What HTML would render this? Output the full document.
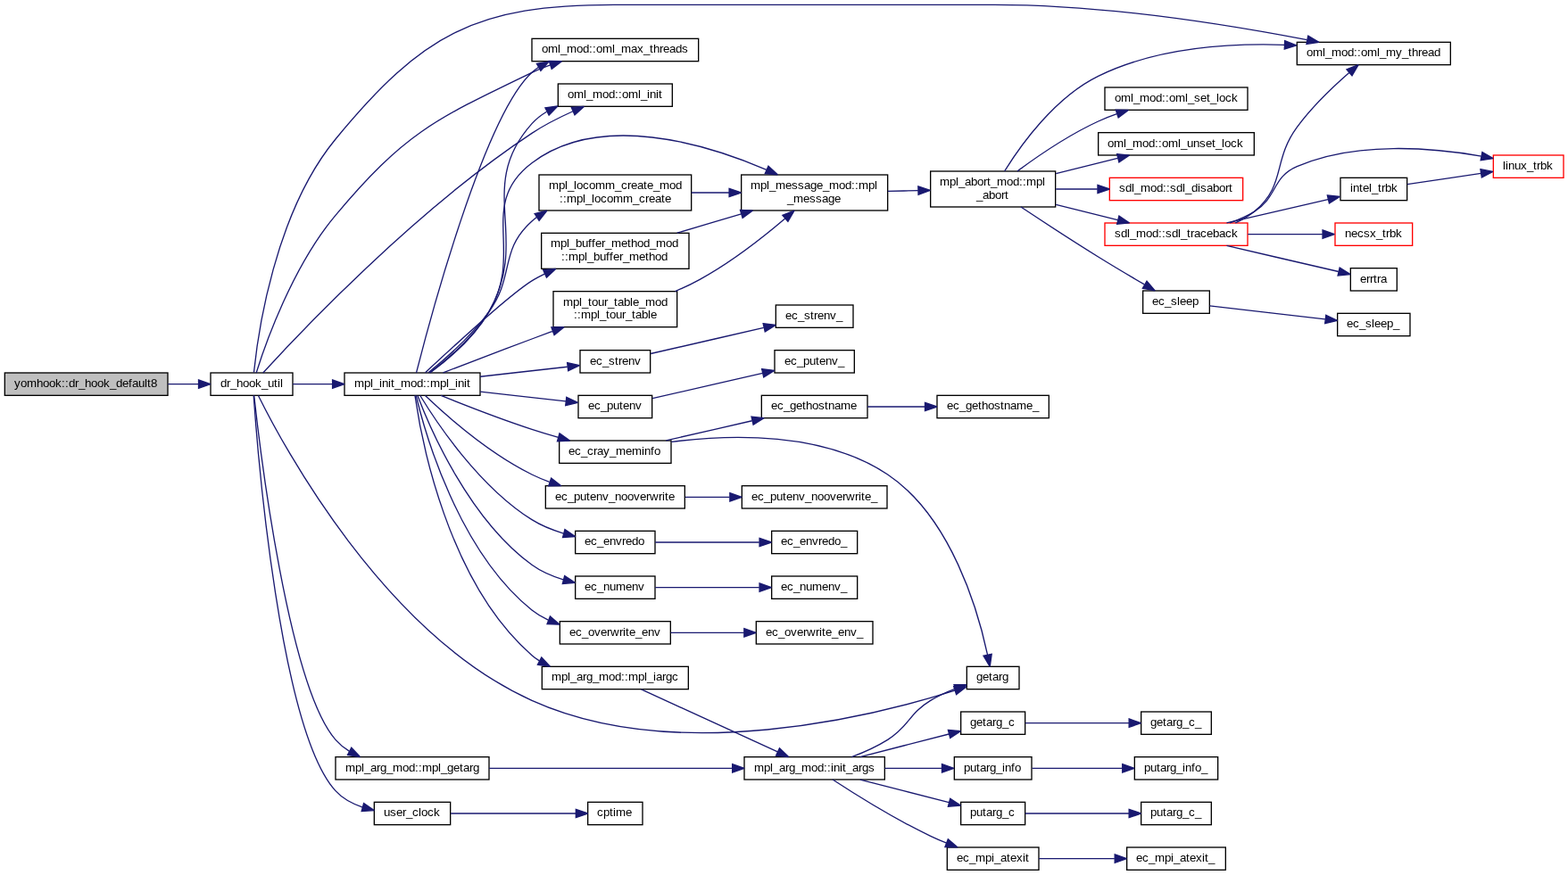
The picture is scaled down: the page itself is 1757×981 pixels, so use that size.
<!DOCTYPE html>
<html lang="en">
<head>
<meta charset="utf-8">
<title>yomhook::dr_hook_default8 call graph</title>
<style>
html,body{margin:0;padding:0;background:#fff;}
body{width:1757px;height:981px;overflow:hidden;}
svg{display:block;}
.n rect{fill:#fff;stroke:#000;stroke-width:1;}
.n.r rect{stroke:#f00;}
.n.g rect{fill:#bfbfbf;}
.n text{font-family:"Liberation Sans",sans-serif;font-size:10px;fill:#000;stroke:none;white-space:pre;}
.e path{fill:none;stroke:#191970;stroke-width:1;}
.e polygon{fill:#191970;stroke:#191970;stroke-width:1;stroke-miterlimit:2;}
svg{will-change:transform;}
</style>
</head>
<body>
<svg width="1757" height="981" viewBox="0 0 1317.75 735.75">
<rect x="0" y="0" width="1317.75" height="735.75" fill="#fff"/>
<g transform="translate(4 732)">
<g class="n g"><rect x="0" y="-418.5" width="137" height="19"/>
<text x="8 13.25 18.5 26.75 32 37.25 42.5 47.75 50.75 53.75 59 62 67.25 72.5 77.75 83 88.25 93.5 98.75 104 107 112.25 117.5 119.75 122.75" y="-406.5">yomhook::dr_hook_default8</text>
</g>
<g class="n"><rect x="173" y="-418.5" width="69" height="19"/>
<text x="181.25 186.5 189.5 194.75 200 205.25 210.5 215.75 221 226.25 229.25 231.5" y="-406.5">dr_hook_util</text>
</g>
<g class="e"><path d="M137.2,-409C145.92,-409 154.66,-409 162.85,-409"/><polygon points="162.89,-412.5 172.89,-409 162.89,-405.5"/></g>
<g class="n"><rect x="1086" y="-696.5" width="129" height="19"/>
<text x="1094 1099.25 1107.5 1109.75 1115 1123.25 1128.5 1133.75 1136.75 1139.75 1145 1153.25 1155.5 1160.75 1169 1174.25 1179.5 1182.5 1187.75 1190.75 1196 1201.25" y="-684.5">oml_mod::oml_my_thread</text>
</g>
<g class="e"><path d="M209.35,-418.78C212.58,-450.59 226.64,-552.66 278,-615 351.44,-704.13 396.51,-728 512,-728 512,-728 512,-728 831.5,-728 924.3,-728 1031.1,-710.61 1094.31,-698.48"/><polygon points="1095.3,-701.85 1104.45,-696.51 1093.96,-694.98"/></g>
<g class="n"><rect x="443" y="-699.5" width="140" height="19"/>
<text x="451.25 456.5 464.75 467 472.25 480.5 485.75 491 494 497 502.25 510.5 512.75 518 526.25 531.5 536.75 542 545 550.25 553.25 558.5 563.75 569" y="-687.5">oml_mod::oml_max_threads</text>
</g>
<g class="e"><path d="M211.37,-418.53C219.01,-442.78 241.81,-507.91 278,-551 336.32,-620.44 361.3,-631.66 443,-671 447.9,-673.36 453.14,-675.47 458.46,-677.34"/><polygon points="457.47,-680.7 468.07,-680.46 459.64,-674.04"/></g>
<g class="n"><rect x="285.5" y="-418.5" width="114" height="19"/>
<text x="293.75 302 307.25 309.5 314.75 317 322.25 324.5 327.5 332.75 341 346.25 351.5 354.5 357.5 365.75 371 373.25 378.5 380.75 386 388.25" y="-406.5">mpl_init_mod::mpl_init</text>
</g>
<g class="e"><path d="M242.06,-409C252.24,-409 263.79,-409 275.34,-409"/><polygon points="275.44,-412.5 285.44,-409 275.44,-405.5"/></g>
<g class="n"><rect x="465" y="-661.5" width="96" height="19"/>
<text x="473 478.25 486.5 488.75 494 502.25 507.5 512.75 515.75 518.75 524 532.25 534.5 539.75 542 547.25 549.5" y="-649.5">oml_mod::oml_init</text>
</g>
<g class="e"><path d="M217.06,-418.51C246.12,-450.4 344.73,-555.13 443,-620 453.68,-627.05 466.15,-633.34 477.54,-638.45"/><polygon points="476.21,-641.69 486.78,-642.45 478.99,-635.26"/></g>
<g class="n"><rect x="808.5" y="-171.5" width="44" height="19"/>
<text x="816.5 821.75 827 830 835.25 838.25" y="-159.5">getarg</text>
</g>
<g class="e"><path d="M213.08,-399.42C233.18,-358.69 318.16,-199.37 443,-143 564.72,-88.04 730.47,-129.89 798.46,-151.34"/><polygon points="797.55,-154.73 808.14,-154.47 799.7,-148.07"/></g>
<g class="n"><rect x="278" y="-95.5" width="129" height="19"/>
<text x="286.25 294.5 299.75 302 307.25 312.5 315.5 320.75 326 334.25 339.5 344.75 347.75 350.75 359 364.25 366.5 371.75 377 382.25 385.25 390.5 393.5" y="-83.5">mpl_arg_mod::mpl_getarg</text>
</g>
<g class="e"><path d="M209.54,-399.2C214.64,-352.77 238.43,-155.22 278,-110 281.27,-106.26 285.19,-103.1 289.45,-100.44"/><polygon points="291.36,-103.38 298.58,-95.62 288.1,-97.19"/></g>
<g class="n"><rect x="310.5" y="-57.5" width="64" height="19"/>
<text x="318.5 323.75 329 334.25 337.25 342.5 347.75 350 355.25 360.5" y="-45.5">user_clock</text>
</g>
<g class="e"><path d="M209.14,-399.45C212.68,-349.43 231.41,-117.99 278,-67 284.03,-60.4 292.26,-56.05 300.79,-53.2"/><polygon points="301.71,-56.58 310.45,-50.58 299.88,-49.82"/></g>
<g class="e"><path d="M345.89,-418.54C356.74,-461.24 402.69,-634.32 443,-671 444.72,-672.56 446.55,-674 448.48,-675.32"/><polygon points="446.99,-678.5 457.42,-680.39 450.44,-672.41"/></g>
<g class="e"><path d="M357.43,-418.52C372.07,-429.28 394.66,-448.18 407,-470 442.46,-532.69 394.97,-574.33 443,-628 446.56,-631.97 450.81,-635.29 455.43,-638.06"/><polygon points="454.17,-641.35 464.68,-642.73 457.33,-635.1"/></g>
<g class="n"><rect x="619" y="-585" width="123" height="30"/>
<text x="626.75 635 640.25 642.5 647.75 656 661.25 666.5 671.75 677 682.25 687.5 692.75 701 706.25 711.5 714.5 717.5 725.75 731" y="-573">mpl_message_mod::mpl</text>
<text x="657.5 662.75 671 676.25 681.5 686.75 692 697.25" y="-562">_message</text>
</g>
<g class="e"><path d="M357.19,-418.66C371.63,-429.54 394.05,-448.53 407,-470 436.87,-519.5 396.81,-560.23 443,-595 500.49,-638.27 589.3,-611.04 640.15,-589.25"/><polygon points="641.76,-592.36 649.49,-585.12 638.93,-585.96"/></g>
<g class="n"><rect x="449" y="-585" width="128" height="30"/>
<text x="457.25 465.5 470.75 473 478.25 480.5 485.75 491 496.25 504.5 512.75 518 523.25 526.25 531.5 536.75 539.75 545 550.25 558.5 563.75" y="-573">mpl_locomm_create_mod</text>
<text x="466.25 469.25 472.25 480.5 485.75 488 493.25 495.5 500.75 506 511.25 519.5 527.75 533 538.25 541.25 546.5 551.75 554.75" y="-562">::mpl_locomm_create</text>
</g>
<g class="e"><path d="M356.03,-418.68C369.88,-429.87 392.17,-449.4 407,-470 428.84,-500.33 415.19,-521.03 443,-546 444.3,-547.17 445.66,-548.27 447.06,-549.33"/><polygon points="445.29,-552.35 455.59,-554.81 449.07,-546.46"/></g>
<g class="n"><rect x="451" y="-536" width="124" height="30"/>
<text x="458.75 467 472.25 474.5 479.75 485 490.25 493.25 496.25 501.5 504.5 509.75 518 523.25 526.25 531.5 536.75 542 547.25 555.5 560.75" y="-524">mpl_buffer_method_mod</text>
<text x="467.75 470.75 473.75 482 487.25 489.5 494.75 500 505.25 508.25 511.25 516.5 519.5 524.75 533 538.25 541.25 546.5 551.75" y="-513">::mpl_buffer_method</text>
</g>
<g class="e"><path d="M353.47,-418.73C375.45,-439.13 424.9,-485.47 444.8,-497 447.65,-498.67 450.63,-500.24 453.68,-501.73"/><polygon points="452.47,-505.02 463.03,-505.91 455.33,-498.63"/></g>
<g class="n"><rect x="461" y="-487" width="104" height="30"/>
<text x="469.25 477.5 482.75 485 490.25 493.25 498.5 503.75 506.75 512 515 520.25 525.5 527.75 533 538.25 546.5 551.75" y="-475">mpl_tour_table_mod</text>
<text x="478.25 481.25 484.25 492.5 497.75 500 505.25 508.25 513.5 518.75 521.75 527 530 535.25 540.5 542.75" y="-464">::mpl_tour_table</text>
</g>
<g class="e"><path d="M368.4,-418.65C388.5,-426.4 417.52,-437.52 443,-447 448.58,-449.08 454.43,-451.23 460.26,-453.36"/><polygon points="459.4,-456.78 470,-456.91 461.8,-450.2"/></g>
<g class="n"><rect x="483.5" y="-437.5" width="59" height="19"/>
<text x="491.75 497 502.25 507.5 512.75 515.75 518.75 524 529.25" y="-425.5">ec_strenv</text>
</g>
<g class="e"><path d="M399.61,-415.33C423.63,-418.04 451.1,-421.13 472.87,-423.59"/><polygon points="472.73,-427.09 483.06,-424.74 473.52,-420.14"/></g>
<g class="n"><rect x="482" y="-399.5" width="62" height="19"/>
<text x="490.25 495.5 500.75 506 511.25 516.5 519.5 524.75 530" y="-387.5">ec_putenv</text>
</g>
<g class="e"><path d="M399.61,-402.67C423.14,-400.02 449.98,-396.99 471.53,-394.56"/><polygon points="472.1,-398.02 481.64,-393.42 471.31,-391.07"/></g>
<g class="n"><rect x="466" y="-361.5" width="94" height="19"/>
<text x="473.75 479 484.25 489.5 494.75 497.75 503 508.25 513.5 521.75 527 535.25 537.5 542.75 545.75" y="-349.5">ec_cray_meminfo</text>
</g>
<g class="e"><path d="M366.59,-399.46C386.62,-391.36 416.47,-379.7 443,-371 450.14,-368.66 457.76,-366.36 465.23,-364.22"/><polygon points="466.24,-367.58 474.92,-361.51 464.35,-360.84"/></g>
<g class="n"><rect x="454.5" y="-323.5" width="117" height="19"/>
<text x="462.5 467.75 473 478.25 483.5 488.75 491.75 497 502.25 507.5 512.75 518 523.25 528.5 533.75 539 542 549.5 552.5 554.75 557.75" y="-311.5">ec_putenv_nooverwrite</text>
</g>
<g class="e"><path d="M353.35,-399.35C370.28,-383.29 406.59,-351.06 443,-333 447.68,-330.68 452.68,-328.61 457.78,-326.77"/><polygon points="459.24,-329.97 467.63,-323.5 457.04,-323.33"/></g>
<g class="n"><rect x="479.5" y="-285.5" width="67" height="19"/>
<text x="487.25 492.5 497.75 503 508.25 513.5 518.75 521.75 527 532.25" y="-273.5">ec_envredo</text>
</g>
<g class="e"><path d="M349.11,-399.36C362.45,-377.35 398.29,-323.09 443,-295 451.04,-289.95 460.42,-286.22 469.63,-283.48"/><polygon points="470.71,-286.81 479.48,-280.87 468.92,-280.05"/></g>
<g class="n"><rect x="479.5" y="-247.5" width="67" height="19"/>
<text x="487.25 492.5 497.75 503 508.25 513.5 521.75 527 532.25" y="-235.5">ec_numenv</text>
</g>
<g class="e"><path d="M346.94,-399.44C357.12,-372.57 389.73,-295.83 443,-257 450.74,-251.36 460.08,-247.39 469.35,-244.6"/><polygon points="470.51,-247.91 479.3,-242.01 468.75,-241.14"/></g>
<g class="n"><rect x="466.5" y="-209.5" width="93" height="19"/>
<text x="474.5 479.75 485 490.25 495.5 500.75 506 509 516.5 519.5 521.75 524.75 530 535.25 540.5 545.75" y="-197.5">ec_overwrite_env</text>
</g>
<g class="e"><path d="M345.65,-399.37C353.12,-368.18 380.97,-269.01 443,-219 447.13,-215.67 451.79,-212.93 456.71,-210.66"/><polygon points="458.35,-213.78 466.38,-206.87 455.79,-207.26"/></g>
<g class="n"><rect x="451.5" y="-171.5" width="123" height="19"/>
<text x="459.5 467.75 473 475.25 480.5 485.75 488.75 494 499.25 507.5 512.75 518 521 524 532.25 537.5 539.75 545 547.25 552.5 555.5 560.75" y="-159.5">mpl_arg_mod::mpl_iargc</text>
</g>
<g class="e"><path d="M344.72,-399.5C349.72,-364.64 371.85,-242.66 443,-181 444.97,-179.29 447.08,-177.74 449.3,-176.32"/><polygon points="451.12,-179.31 458.29,-171.51 447.83,-173.14"/></g>
<g class="n"><rect x="778" y="-588" width="105" height="30"/>
<text x="785.75 794 799.25 801.5 806.75 812 817.25 822.5 825.5 828.5 833.75 842 847.25 852.5 855.5 858.5 866.75 872" y="-576">mpl_abort_mod::mpl</text>
<text x="816.5 821.75 827 832.25 837.5 840.5" y="-565">_abort</text>
</g>
<g class="e"><path d="M742.12,-571.23C750.52,-571.4 759.16,-571.57 767.58,-571.74"/><polygon points="767.65,-575.25 777.72,-571.95 767.79,-568.25"/></g>
<g class="e"><path d="M840.24,-588.1C853.89,-610.07 882.53,-650.19 919,-668 967.4,-691.64 1028.38,-695.72 1075.45,-694.25"/><polygon points="1075.73,-697.74 1085.58,-693.84 1075.45,-690.75"/></g>
<g class="n r"><rect x="924.5" y="-544.5" width="120" height="19"/>
<text x="932.75 938 943.25 945.5 950.75 959 964.25 969.5 972.5 975.5 980.75 986 988.25 993.5 996.5 999.5 1004.75 1010 1015.25 1020.5 1025.75 1031" y="-532.5">sdl_mod::sdl_traceback</text>
</g>
<g class="e"><path d="M883.38,-560.03C900.19,-555.83 918.76,-551.19 935.29,-547.05"/><polygon points="936.43,-550.38 945.28,-544.55 934.73,-543.58"/></g>
<g class="n"><rect x="956.5" y="-487.5" width="56" height="19"/>
<text x="964.25 969.5 974.75 980 985.25 987.5 992.75 998" y="-475.5">ec_sleep</text>
</g>
<g class="e"><path d="M853.98,-557.96C871.55,-546.3 896.66,-529.85 919,-516 931.64,-508.17 945.86,-499.74 957.73,-492.82"/><polygon points="959.78,-495.68 966.67,-487.64 956.27,-489.63"/></g>
<g class="n"><rect x="924.5" y="-658.5" width="120" height="19"/>
<text x="932.75 938 946.25 948.5 953.75 962 967.25 972.5 975.5 978.5 983.75 992 994.25 999.5 1004.75 1010 1013 1018.25 1020.5 1025.75 1031" y="-646.5">oml_mod::oml_set_lock</text>
</g>
<g class="e"><path d="M851.04,-588.12C868.16,-600.77 894.14,-618.54 919,-630 923.97,-632.29 929.28,-634.38 934.64,-636.26"/><polygon points="933.7,-639.64 944.29,-639.43 935.88,-632.99"/></g>
<g class="n"><rect x="919" y="-620.5" width="131" height="19"/>
<text x="926.75 932 940.25 942.5 947.75 956 961.25 966.5 969.5 972.5 977.75 986 988.25 993.5 998.75 1004 1009.25 1014.5 1017.5 1022.75 1025 1030.25 1035.5" y="-608.5">oml_mod::oml_unset_lock</text>
</g>
<g class="e"><path d="M883.38,-585.97C900.19,-590.17 918.76,-594.81 935.29,-598.95"/><polygon points="934.73,-602.42 945.28,-601.45 936.43,-595.62"/></g>
<g class="n r"><rect x="928.5" y="-582.5" width="112" height="19"/>
<text x="936.5 941.75 947 949.25 954.5 962.75 968 973.25 976.25 979.25 984.5 989.75 992 997.25 1002.5 1004.75 1010 1015.25 1020.5 1025.75 1028.75" y="-570.5">sdl_mod::sdl_disabort</text>
</g>
<g class="e"><path d="M883.38,-573C894.63,-573 906.65,-573 918.33,-573"/><polygon points="918.48,-576.5 928.48,-573 918.48,-569.5"/></g>
<g class="e"><path d="M1034.21,-544.57C1039.9,-547.03 1045.33,-550.12 1050,-554 1077.2,-576.63 1065.06,-596.48 1086,-625 1098.69,-642.28 1116.34,-659.09 1129.81,-670.84"/><polygon points="1127.7,-673.63 1137.58,-677.45 1132.24,-668.3"/></g>
<g class="n"><rect x="1131" y="-506.5" width="39" height="19"/>
<text x="1139 1144.25 1147.25 1150.25 1153.25 1156.25" y="-494.5">errtra</text>
</g>
<g class="e"><path d="M1026.88,-525.41C1056.24,-518.61 1094.89,-509.65 1120.88,-503.63"/><polygon points="1121.89,-506.99 1130.85,-501.32 1120.31,-500.17"/></g>
<g class="n r"><rect x="1251" y="-601.5" width="59" height="19"/>
<text x="1259 1261.25 1263.5 1268.75 1274 1279.25 1284.5 1287.5 1290.5 1295.75" y="-589.5">linux_trbk</text>
</g>
<g class="e"><path d="M1029.51,-544.57C1036.64,-547.06 1043.73,-550.16 1050,-554 1069.84,-566.15 1064.63,-582.81 1086,-592 1136.11,-613.55 1200.49,-607.77 1240.89,-600.65"/><polygon points="1241.68,-604.06 1250.87,-598.78 1240.39,-597.18"/></g>
<g class="n"><rect x="1122.5" y="-582.5" width="56" height="19"/>
<text x="1130.75 1133 1138.25 1141.25 1146.5 1148.75 1154 1157 1160 1165.25" y="-570.5">intel_trbk</text>
</g>
<g class="e"><path d="M1026.88,-544.59C1053.07,-550.66 1086.65,-558.44 1112.05,-564.32"/><polygon points="1111.51,-567.79 1122.04,-566.64 1113.09,-560.97"/></g>
<g class="n r"><rect x="1118" y="-544.5" width="65" height="19"/>
<text x="1126.25 1131.5 1136.75 1142 1147.25 1152.5 1157.75 1160.75 1163.75 1169" y="-532.5">necsx_trbk</text>
</g>
<g class="e"><path d="M1044.71,-535C1065.45,-535 1088.32,-535 1107.38,-535"/><polygon points="1107.54,-538.5 1117.54,-535 1107.54,-531.5"/></g>
<g class="e"><path d="M1178.65,-577.03C1196.64,-579.7 1220.54,-583.25 1240.55,-586.22"/><polygon points="1240.21,-589.71 1250.61,-587.71 1241.24,-582.78"/></g>
<g class="n"><rect x="1120" y="-468.5" width="61" height="19"/>
<text x="1127.75 1133 1138.25 1143.5 1148.75 1151 1156.25 1161.5 1166.75" y="-456.5">ec_sleep_</text>
</g>
<g class="e"><path d="M1012.58,-474.86C1039.03,-471.8 1079.59,-467.1 1109.7,-463.61"/><polygon points="1110.35,-467.06 1119.88,-462.43 1109.54,-460.11"/></g>
<g class="e"><path d="M577.04,-570C587.42,-570 598.25,-570 608.8,-570"/><polygon points="608.82,-573.5 618.82,-570 608.82,-566.5"/></g>
<g class="e"><path d="M565.01,-536.1C582.07,-541.16 601.27,-546.84 618.99,-552.08"/><polygon points="618.08,-555.47 628.66,-554.95 620.07,-548.75"/></g>
<g class="e"><path d="M563.49,-487.11C570.52,-490.04 577.58,-493.35 584.1,-497 610.27,-511.33 637.16,-532.4 655.77,-548.22"/><polygon points="653.63,-551 663.5,-554.86 658.19,-545.69"/></g>
<g class="n"><rect x="648" y="-475.5" width="65" height="19"/>
<text x="656 661.25 666.5 671.75 677 680 683 688.25 693.5 698.75" y="-463.5">ec_strenv_</text>
</g>
<g class="e"><path d="M542.83,-434.62C569.09,-440.65 608.18,-449.63 637.84,-456.43"/><polygon points="637.37,-459.92 647.9,-458.74 638.94,-453.1"/></g>
<g class="n"><rect x="647" y="-437.5" width="67" height="19"/>
<text x="655.25 660.5 665.75 671 676.25 681.5 684.5 689.75 695 700.25" y="-425.5">ec_putenv_</text>
</g>
<g class="e"><path d="M544.36,-396.97C570.32,-402.93 607.96,-411.57 636.94,-418.23"/><polygon points="636.26,-421.66 646.79,-420.49 637.82,-414.84"/></g>
<g class="n"><rect x="636" y="-399.5" width="89" height="19"/>
<text x="644 649.25 654.5 659.75 665 670.25 673.25 678.5 683.75 689 692 697.25 702.5 710.75" y="-387.5">ec_gethostname</text>
</g>
<g class="e"><path d="M555.76,-361.59C577.7,-366.63 604.78,-372.84 628.01,-378.18"/><polygon points="627.51,-381.65 638.04,-380.48 629.07,-374.83"/></g>
<g class="e"><path d="M560.21,-360.45C609.54,-366.87 687.89,-369.27 742,-333 795.47,-297.16 818.05,-218.14 825.93,-181.44"/><polygon points="829.39,-182 827.92,-171.51 822.52,-180.62"/></g>
<g class="n"><rect x="783.5" y="-399.5" width="94" height="19"/>
<text x="791.75 797 802.25 807.5 812.75 818 821 826.25 831.5 836.75 839.75 845 850.25 858.5 863.75" y="-387.5">ec_gethostname_</text>
</g>
<g class="e"><path d="M725.1,-390C740.14,-390 757.21,-390 773.12,-390"/><polygon points="773.38,-393.5 783.38,-390 773.38,-386.5"/></g>
<g class="n"><rect x="619.5" y="-323.5" width="122" height="19"/>
<text x="627.5 632.75 638 643.25 648.5 653.75 656.75 662 667.25 672.5 677.75 683 688.25 693.5 698.75 704 707 714.5 717.5 719.75 722.75 728" y="-311.5">ec_putenv_nooverwrite_</text>
</g>
<g class="e"><path d="M571.88,-314C583.9,-314 596.69,-314 609.09,-314"/><polygon points="609.4,-317.5 619.4,-314 609.4,-310.5"/></g>
<g class="n"><rect x="644.5" y="-285.5" width="72" height="19"/>
<text x="652.25 657.5 662.75 668 673.25 678.5 683.75 686.75 692 697.25 702.5" y="-273.5">ec_envredo_</text>
</g>
<g class="e"><path d="M546.7,-276C571.67,-276 606.39,-276 634.07,-276"/><polygon points="634.3,-279.5 644.3,-276 634.3,-272.5"/></g>
<g class="n"><rect x="644.5" y="-247.5" width="72" height="19"/>
<text x="652.25 657.5 662.75 668 673.25 678.5 686.75 692 697.25 702.5" y="-235.5">ec_numenv_</text>
</g>
<g class="e"><path d="M546.7,-238C571.67,-238 606.39,-238 634.07,-238"/><polygon points="634.3,-241.5 644.3,-238 634.3,-234.5"/></g>
<g class="n"><rect x="631.5" y="-209.5" width="98" height="19"/>
<text x="639.5 644.75 650 655.25 660.5 665.75 671 674 681.5 684.5 686.75 689.75 695 700.25 705.5 710.75 716" y="-197.5">ec_overwrite_env_</text>
</g>
<g class="e"><path d="M559.66,-200C578.73,-200 601.12,-200 621.35,-200"/><polygon points="621.39,-203.5 631.39,-200 621.39,-196.5"/></g>
<g class="n"><rect x="621.5" y="-95.5" width="118" height="19"/>
<text x="629.75 638 643.25 645.5 650.75 656 659 664.25 669.5 677.75 683 688.25 691.25 694.25 696.5 701.75 704 707 712.25 717.5 720.5 725.75" y="-83.5">mpl_arg_mod::init_args</text>
</g>
<g class="e"><path d="M534.96,-152.37C563.94,-139.07 616.39,-114.98 649.51,-99.77"/><polygon points="651.08,-102.9 658.71,-95.55 648.16,-96.54"/></g>
<g class="e"><path d="M711.78,-95.54C721.78,-99.32 732.71,-104.18 742,-110 760.39,-121.53 759.47,-131.7 778,-143 784.29,-146.83 791.47,-150.08 798.44,-152.75"/><polygon points="797.76,-156.23 808.36,-156.25 800.09,-149.63"/></g>
<g class="n"><rect x="803.5" y="-133.5" width="54" height="19"/>
<text x="811.25 816.5 821.75 824.75 830 833 838.25 843.5" y="-121.5">getarg_c</text>
</g>
<g class="e"><path d="M718.85,-95.59C741.72,-101.46 770.84,-108.94 793.47,-114.75"/><polygon points="792.8,-118.19 803.36,-117.29 794.54,-111.41"/></g>
<g class="n"><rect x="798" y="-95.5" width="65" height="19"/>
<text x="806 811.25 816.5 819.5 824.75 827.75 833 838.25 840.5 845.75 848.75" y="-83.5">putarg_info</text>
</g>
<g class="e"><path d="M739.57,-86C755.47,-86 772.4,-86 787.23,-86"/><polygon points="787.62,-89.5 797.62,-86 787.62,-82.5"/></g>
<g class="n"><rect x="803.5" y="-57.5" width="54" height="19"/>
<text x="811.25 816.5 821.75 824.75 830 833 838.25 843.5" y="-45.5">putarg_c</text>
</g>
<g class="e"><path d="M718.85,-76.41C741.72,-70.54 770.84,-63.06 793.47,-57.25"/><polygon points="794.54,-60.59 803.36,-54.71 792.8,-53.81"/></g>
<g class="n"><rect x="792" y="-19.5" width="77" height="19"/>
<text x="800 805.25 810.5 815.75 824 829.25 831.5 836.75 842 845 850.25 855.5 857.75" y="-7.5">ec_mpi_atexit</text>
</g>
<g class="e"><path d="M695.77,-76.47C714.21,-64.4 747.59,-43.44 778,-29 782.29,-26.96 786.87,-24.99 791.45,-23.15"/><polygon points="792.72,-26.42 800.79,-19.55 790.2,-19.88"/></g>
<g class="n"><rect x="955" y="-133.5" width="59" height="19"/>
<text x="962.75 968 973.25 976.25 981.5 984.5 989.75 995 1000.25" y="-121.5">getarg_c_</text>
</g>
<g class="e"><path d="M857.63,-124C881.64,-124 917.54,-124 944.86,-124"/><polygon points="944.87,-127.5 954.87,-124 944.87,-120.5"/></g>
<g class="n"><rect x="949.5" y="-95.5" width="70" height="19"/>
<text x="957.5 962.75 968 971 976.25 979.25 984.5 989.75 992 997.25 1000.25 1005.5" y="-83.5">putarg_info_</text>
</g>
<g class="e"><path d="M863.36,-86C885.38,-86 914.95,-86 939.25,-86"/><polygon points="939.3,-89.5 949.3,-86 939.3,-82.5"/></g>
<g class="n"><rect x="955" y="-57.5" width="59" height="19"/>
<text x="962.75 968 973.25 976.25 981.5 984.5 989.75 995 1000.25" y="-45.5">putarg_c_</text>
</g>
<g class="e"><path d="M857.63,-48C881.64,-48 917.54,-48 944.86,-48"/><polygon points="944.87,-51.5 954.87,-48 944.87,-44.5"/></g>
<g class="n"><rect x="943" y="-19.5" width="83" height="19"/>
<text x="950.75 956 961.25 966.5 974.75 980 982.25 987.5 992.75 995.75 1001 1006.25 1008.5 1011.5" y="-7.5">ec_mpi_atexit_</text>
</g>
<g class="e"><path d="M869.07,-10C888.25,-10 911.86,-10 932.64,-10"/><polygon points="932.9,-13.5 942.9,-10 932.9,-6.5"/></g>
<g class="e"><path d="M407.09,-86C465.46,-86 551.67,-86 611.41,-86"/><polygon points="611.5,-89.5 621.5,-86 611.5,-82.5"/></g>
<g class="n"><rect x="490" y="-57.5" width="46" height="19"/>
<text x="497.75 503 508.25 511.25 513.5 521.75" y="-45.5">cptime</text>
</g>
<g class="e"><path d="M374.8,-48C404.77,-48 449.77,-48 479.97,-48"/><polygon points="479.99,-51.5 489.99,-48 479.99,-44.5"/></g>
</g>
</svg>
</body>
</html>
